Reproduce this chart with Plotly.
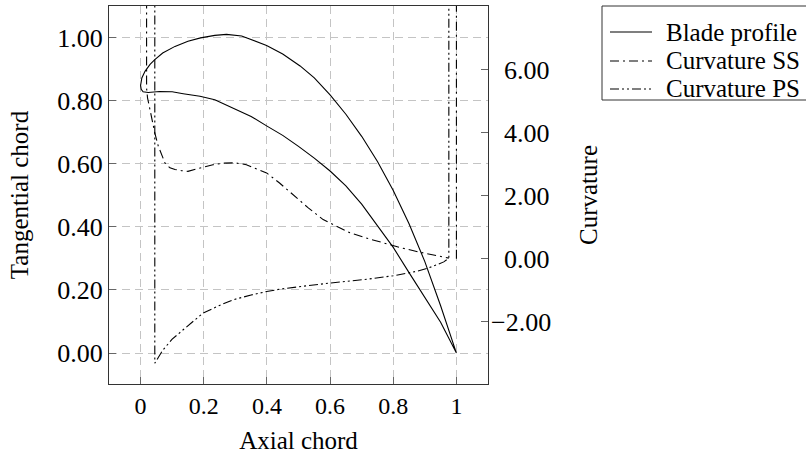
import plotly.graph_objects as go

# ---- data ----
upper_x = [0.0, 0.004, 0.014, 0.03, 0.045, 0.07, 0.109, 0.15, 0.19, 0.235, 0.272, 0.32, 0.399, 0.45, 0.505, 0.55, 0.6, 0.65, 0.7, 0.75, 0.8, 0.85, 0.9, 0.95, 1.0]
upper_y = [0.848, 0.872, 0.893, 0.915, 0.930, 0.951, 0.972, 0.988, 0.999, 1.007, 1.010, 1.005, 0.975, 0.948, 0.910, 0.872, 0.818, 0.757, 0.687, 0.607, 0.515, 0.41, 0.29, 0.15, 0.0]
lower_x = [0.0, 0.002, 0.008, 0.024, 0.06, 0.1, 0.135, 0.188, 0.235, 0.293, 0.35, 0.399, 0.45, 0.5, 0.55, 0.6, 0.65, 0.7, 0.75, 0.8, 0.85, 0.9, 0.95, 1.0]
lower_y = [0.848, 0.836, 0.828, 0.826, 0.829, 0.828, 0.822, 0.814, 0.803, 0.777, 0.75, 0.72, 0.69, 0.655, 0.618, 0.577, 0.530, 0.472, 0.405, 0.335, 0.255, 0.175, 0.098, 0.0]

ss_x = [0.019, 0.019, 0.022, 0.029, 0.045, 0.056, 0.077, 0.093, 0.109, 0.13, 0.15, 0.198, 0.229, 0.265, 0.299, 0.335, 0.399, 0.44, 0.483, 0.53, 0.578, 0.663, 0.72, 0.768, 0.82, 0.874, 0.93, 0.976, None, 1.0, 1.0]
ss_k = [60, 5.4, 5.1, 4.73, 3.99, 3.57, 3.04, 2.88, 2.83, 2.79, 2.77, 2.9, 2.98, 3.03, 3.04, 2.98, 2.72, 2.4, 2.03, 1.62, 1.24, 0.82, 0.64, 0.50, 0.36, 0.23, 0.12, 0.02, None, 0.0, 60]

ps_x = [0.045, 0.045, 0.07, 0.1, 0.135, 0.17, 0.198, 0.25, 0.293, 0.35, 0.399, 0.45, 0.505, 0.6, 0.716, 0.8, 0.874, 0.91, 0.938, 0.96, 0.976, 0.976]
ps_k = [60, -3.31, -2.9, -2.55, -2.25, -1.95, -1.72, -1.48, -1.30, -1.15, -1.04, -0.95, -0.88, -0.77, -0.65, -0.54, -0.40, -0.30, -0.19, -0.10, 0.02, 60]

x_ticks = [0, 0.2, 0.4, 0.6, 0.8, 1.0]
x_ticktext = ["0", "0.2", "0.4", "0.6", "0.8", "1"]
y_ticks = [0, 0.2, 0.4, 0.6, 0.8, 1.0]
k_ticks = [-2, 0, 2, 4, 6]
k_ticktext = ["\u22122.00", "\u20070.00", "\u20072.00", "\u20074.00", "\u20076.00"]

series_names = ["Blade profile", "Curvature SS", "Curvature PS"]
series_dash = ["solid", "9px,4px,2px,4px", "9px,3px,2px,3px,2px,3px"]

blade_x = upper_x[::-1] + lower_x[1:]
blade_y = upper_y[::-1] + lower_y[1:]

FONT = "Liberation Serif"
W, H = 806, 459
ML, MR, MT, MB = 109, 318, 6, 75
PW, PH = W - ML - MR, H - MT - MB


def px2paper(px, py):
    return (px - ML) / PW, (H - MB - py) / PH


fig = go.Figure()
fig.add_trace(go.Scatter(x=blade_x, y=blade_y, mode="lines", name=series_names[0],
                         line=dict(color="black", width=1.1, dash=series_dash[0])))
fig.add_trace(go.Scatter(x=ss_x, y=ss_k, mode="lines", name=series_names[1], yaxis="y2",
                         connectgaps=False,
                         line=dict(color="black", width=1.1, dash=series_dash[1])))
fig.add_trace(go.Scatter(x=ps_x, y=ps_k, mode="lines", name=series_names[2], yaxis="y2",
                         line=dict(color="black", width=1.1, dash=series_dash[2])))

# ---- hand-placed legend box (matches reference spacing) ----
bx0, by0 = px2paper(602, 6)
bx1, by1 = px2paper(809, 100)
fig.add_shape(type="rect", xref="paper", yref="paper", x0=bx0, x1=bx1, y0=by1, y1=by0,
              line=dict(color="#333", width=1), fillcolor="white", layer="above")
row_y = [32, 61, 89]
for name, dash, ry in zip(series_names, series_dash, row_y):
    lx0, ly = px2paper(610, ry)
    lx1, _ = px2paper(652, ry)
    fig.add_shape(type="line", xref="paper", yref="paper", x0=lx0, x1=lx1, y0=ly, y1=ly,
                  line=dict(color="black", width=1.1, dash=dash), layer="above")
    tx, ty = px2paper(664, ry)
    fig.add_annotation(xref="paper", yref="paper", x=tx, y=ty, text=name, showarrow=False,
                       xanchor="left", yanchor="middle",
                       font=dict(family=FONT, size=25, color="black"))

grid = dict(showgrid=True, gridcolor="#c4c4c4", gridwidth=1, griddash="8px,5px")

fig.update_layout(
    width=W, height=H,
    margin=dict(l=ML, r=MR, t=MT, b=MB),
    paper_bgcolor="white", plot_bgcolor="white",
    font=dict(family=FONT, size=24, color="black"),
    showlegend=False,
    xaxis=dict(range=[-0.1, 1.1], tickvals=x_ticks, ticktext=x_ticktext,
               tickfont=dict(size=24),
               ticks="inside", ticklen=7, tickcolor="#666",
               showline=True, linecolor="#333", linewidth=1, mirror=True,
               zeroline=False,
               title=dict(text="Axial chord", standoff=13, font=dict(size=25)), **grid),
    yaxis=dict(range=[-0.098, 1.1], tickvals=y_ticks, tickformat=".2f",
               tickfont=dict(size=26),
               ticks="inside", ticklen=7, tickcolor="#666",
               showline=True, linecolor="#333", linewidth=1, mirror=True,
               zeroline=False,
               title=dict(text="Tangential chord", standoff=21, font=dict(size=25)), **grid),
    yaxis2=dict(range=[-3.97, 8.01], tickvals=k_ticks, ticktext=k_ticktext,
                tickfont=dict(size=26), ticklabelstandoff=2,
                overlaying="y", side="right", anchor="x",
                ticks="inside", ticklen=7, tickcolor="#666",
                showgrid=False, zeroline=False, showline=False,
                title=dict(text="Curvature", standoff=29, font=dict(size=25))),
)

fig.write_html("out.html")
